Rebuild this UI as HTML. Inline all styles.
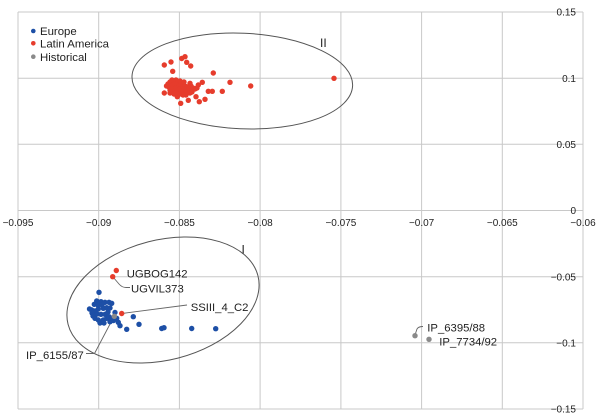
<!DOCTYPE html>
<html>
<head>
<meta charset="utf-8">
<style>
html,body{margin:0;padding:0;background:#fff;}
svg{display:block;}
text{font-family:"Liberation Sans",Arial,sans-serif;fill:#222;}
</style>
</head>
<body>
<svg width="600" height="418" viewBox="0 0 600 418" xmlns="http://www.w3.org/2000/svg">
<rect width="600" height="418" fill="#fff"/>
<g stroke="#c8c8c8" stroke-width="1" fill="none">
<line x1="18" y1="12" x2="18" y2="409"/>
<line x1="98.7" y1="12" x2="98.7" y2="409"/>
<line x1="179.4" y1="12" x2="179.4" y2="409"/>
<line x1="260.1" y1="12" x2="260.1" y2="409"/>
<line x1="340.9" y1="12" x2="340.9" y2="409"/>
<line x1="421.6" y1="12" x2="421.6" y2="409"/>
<line x1="502.3" y1="12" x2="502.3" y2="409"/>
<line x1="583" y1="12" x2="583" y2="409"/>
<line x1="18" y1="12" x2="583" y2="12"/>
<line x1="18" y1="78.2" x2="583" y2="78.2"/>
<line x1="18" y1="144.3" x2="583" y2="144.3"/>
<line x1="18" y1="210.5" x2="583" y2="210.5"/>
<line x1="18" y1="276.7" x2="583" y2="276.7"/>
<line x1="18" y1="342.8" x2="583" y2="342.8"/>
<line x1="18" y1="409" x2="583" y2="409"/>
</g>
<g font-size="10" text-anchor="middle">
<text x="18" y="226">−0.095</text>
<text x="98.7" y="226">−0.09</text>
<text x="179.4" y="226">−0.085</text>
<text x="260.1" y="226">−0.08</text>
<text x="340.9" y="226">−0.075</text>
<text x="421.6" y="226">−0.07</text>
<text x="502.3" y="226">−0.065</text>
<text x="583" y="226">−0.06</text>
</g>
<g font-size="10" text-anchor="end">
<text x="576" y="15.6">0.15</text>
<text x="576" y="81.8">0.1</text>
<text x="576" y="147.9">0.05</text>
<text x="576" y="214">0</text>
<text x="576" y="280.3">−0.05</text>
<text x="576" y="346.4">−0.1</text>
<text x="576" y="412.6">−0.15</text>
</g>
<!-- ellipses -->
<ellipse cx="242.3" cy="81" rx="110.4" ry="47.8" transform="rotate(2.5 242.3 81)" fill="none" stroke="#555" stroke-width="1"/>
<ellipse cx="163" cy="300" rx="98" ry="60" transform="rotate(-14.4 163 300)" fill="none" stroke="#555" stroke-width="1"/>
<text x="320" y="47" font-size="12">II</text>
<text x="241.5" y="253.5" font-size="12">I</text>
<!-- leader lines -->
<g stroke="#666" stroke-width="0.9" fill="none">
<path d="M113,277 L119,284 Q122,287.5 126,287.5 L130,287.5"/>
<path d="M122,313.5 L187,305"/>
<path d="M86,353.5 L94.5,353.5 L114,316.5"/>
<path d="M415,335 L417,329 Q418.5,326.5 423,326.5"/>
</g>
<!-- red points -->
<g fill="#e63c2c">
<circle cx="164.3" cy="65" r="2.7"/><circle cx="171" cy="62" r="2.7"/><circle cx="172.7" cy="71.3" r="2.7"/>
<circle cx="181.7" cy="58.5" r="2.7"/><circle cx="185" cy="56.7" r="2.7"/><circle cx="186.7" cy="62.3" r="2.7"/>
<circle cx="190.7" cy="66" r="2.7"/><circle cx="213.3" cy="73" r="2.7"/><circle cx="334" cy="78.3" r="2.7"/>
<circle cx="230" cy="82.3" r="2.7"/><circle cx="250.7" cy="86" r="2.7"/><circle cx="222.3" cy="91.3" r="2.7"/>
<circle cx="208.3" cy="91.3" r="2.7"/><circle cx="212.3" cy="91.3" r="2.7"/><circle cx="202.3" cy="82.3" r="2.7"/>
<circle cx="198.3" cy="85" r="2.7"/><circle cx="164.3" cy="93" r="2.7"/><circle cx="180.7" cy="103.3" r="2.7"/>
<circle cx="188.3" cy="100.3" r="2.7"/><circle cx="199.3" cy="101.7" r="2.7"/><circle cx="205" cy="99.3" r="2.7"/>
<circle cx="177.3" cy="96.7" r="2.7"/><circle cx="196" cy="96.7" r="2.7"/><circle cx="190" cy="83.3" r="2.7"/>
<circle cx="168" cy="84" r="2.7"/><circle cx="170" cy="82" r="2.7"/><circle cx="172" cy="80" r="2.7"/>
<circle cx="174" cy="81" r="2.7"/><circle cx="176" cy="80" r="2.7"/><circle cx="178" cy="82" r="2.7"/>
<circle cx="180" cy="81" r="2.7"/><circle cx="169" cy="87" r="2.7"/><circle cx="171" cy="86" r="2.7"/>
<circle cx="173" cy="85" r="2.7"/><circle cx="175" cy="84" r="2.7"/><circle cx="177" cy="85" r="2.7"/>
<circle cx="179" cy="86" r="2.7"/><circle cx="181" cy="84" r="2.7"/><circle cx="183" cy="85" r="2.7"/>
<circle cx="185" cy="86" r="2.7"/><circle cx="187" cy="87" r="2.7"/><circle cx="189" cy="88" r="2.7"/>
<circle cx="191" cy="86" r="2.7"/><circle cx="193" cy="88" r="2.7"/><circle cx="195" cy="89" r="2.7"/>
<circle cx="197" cy="88" r="2.7"/><circle cx="170" cy="90" r="2.7"/><circle cx="172" cy="89" r="2.7"/>
<circle cx="174" cy="91" r="2.7"/><circle cx="176" cy="88" r="2.7"/><circle cx="178" cy="90" r="2.7"/>
<circle cx="180" cy="89" r="2.7"/><circle cx="182" cy="91" r="2.7"/><circle cx="184" cy="89" r="2.7"/>
<circle cx="186" cy="92" r="2.7"/><circle cx="188" cy="91" r="2.7"/><circle cx="190" cy="93" r="2.7"/>
<circle cx="192" cy="92" r="2.7"/><circle cx="174" cy="94" r="2.7"/><circle cx="176" cy="93" r="2.7"/>
<circle cx="180" cy="94" r="2.7"/><circle cx="183" cy="95" r="2.7"/><circle cx="186" cy="95" r="2.7"/>
<circle cx="170" cy="93" r="2.7"/><circle cx="166.5" cy="86" r="2.7"/><circle cx="184" cy="82" r="2.7"/>
<circle cx="116.3" cy="270.5" r="2.7"/><circle cx="112.7" cy="276.7" r="2.7"/>
</g>
<!-- blue points -->
<g fill="#1d4fa6">
<circle cx="99" cy="292.3" r="2.7"/><circle cx="96.7" cy="301" r="2.7"/><circle cx="101" cy="301.7" r="2.7"/>
<circle cx="105" cy="302.3" r="2.7"/><circle cx="109" cy="302.3" r="2.7"/><circle cx="111.7" cy="303.3" r="2.7"/>
<circle cx="94.3" cy="304.3" r="2.7"/><circle cx="98" cy="305" r="2.7"/><circle cx="102" cy="305" r="2.7"/>
<circle cx="91.7" cy="310" r="2.7"/><circle cx="95" cy="311" r="2.7"/><circle cx="98.3" cy="309" r="2.7"/>
<circle cx="103.3" cy="308.3" r="2.7"/><circle cx="106.7" cy="307.7" r="2.7"/><circle cx="110" cy="308" r="2.7"/>
<circle cx="89.5" cy="309" r="2.7"/><circle cx="92" cy="313" r="2.7"/><circle cx="97" cy="314" r="2.7"/>
<circle cx="101" cy="314.3" r="2.7"/><circle cx="105" cy="314.3" r="2.7"/><circle cx="108" cy="312" r="2.7"/>
<circle cx="95" cy="318.3" r="2.7"/><circle cx="98.3" cy="320" r="2.7"/><circle cx="103.3" cy="320" r="2.7"/>
<circle cx="106.7" cy="318.3" r="2.7"/><circle cx="109" cy="316.7" r="2.7"/><circle cx="111.7" cy="318.3" r="2.7"/>
<circle cx="110" cy="321.7" r="2.7"/><circle cx="100" cy="323" r="2.7"/><circle cx="104" cy="323" r="2.7"/>
<circle cx="93" cy="316" r="2.7"/><circle cx="116.7" cy="318.3" r="2.7"/><circle cx="118.3" cy="322.3" r="2.7"/>
<circle cx="120" cy="325.7" r="2.7"/><circle cx="113.5" cy="320.5" r="2.7"/><circle cx="115" cy="312.5" r="2.7"/>
<circle cx="133.3" cy="316.7" r="2.7"/><circle cx="139" cy="324.3" r="2.7"/><circle cx="126.7" cy="329.3" r="2.7"/>
<circle cx="161.7" cy="328.5" r="2.7"/><circle cx="164" cy="327.7" r="2.7"/><circle cx="191.7" cy="328.5" r="2.7"/>
<circle cx="215.7" cy="328.7" r="2.7"/>
</g>
<circle cx="121.7" cy="313.5" r="2.7" fill="#e63c2c"/>
<!-- gray points -->
<g fill="#8a8a8a">
<circle cx="114.3" cy="316.3" r="2.7"/>
<circle cx="415" cy="335.7" r="2.7"/>
<circle cx="429" cy="339.3" r="2.7"/>
</g>
<!-- point labels -->
<g font-size="11.3">
<text x="126.7" y="277.3">UGBOG142</text>
<text x="131" y="292.3">UGVIL373</text>
<text x="190.7" y="311">SSIII_4_C2</text>
<text x="26" y="359">IP_6155/87</text>
<text x="427.3" y="331.6">IP_6395/88</text>
<text x="439.3" y="345.6">IP_7734/92</text>
</g>
<!-- legend -->
<circle cx="33.3" cy="31" r="2.3" fill="#1d4fa6"/>
<circle cx="33.3" cy="43.3" r="2.3" fill="#e63c2c"/>
<circle cx="33.3" cy="56.7" r="2.3" fill="#8a8a8a"/>
<g font-size="11.4">
<text x="40" y="35">Europe</text>
<text x="40" y="47.4">Latin America</text>
<text x="40" y="61">Historical</text>
</g>
</svg>
</body>
</html>
